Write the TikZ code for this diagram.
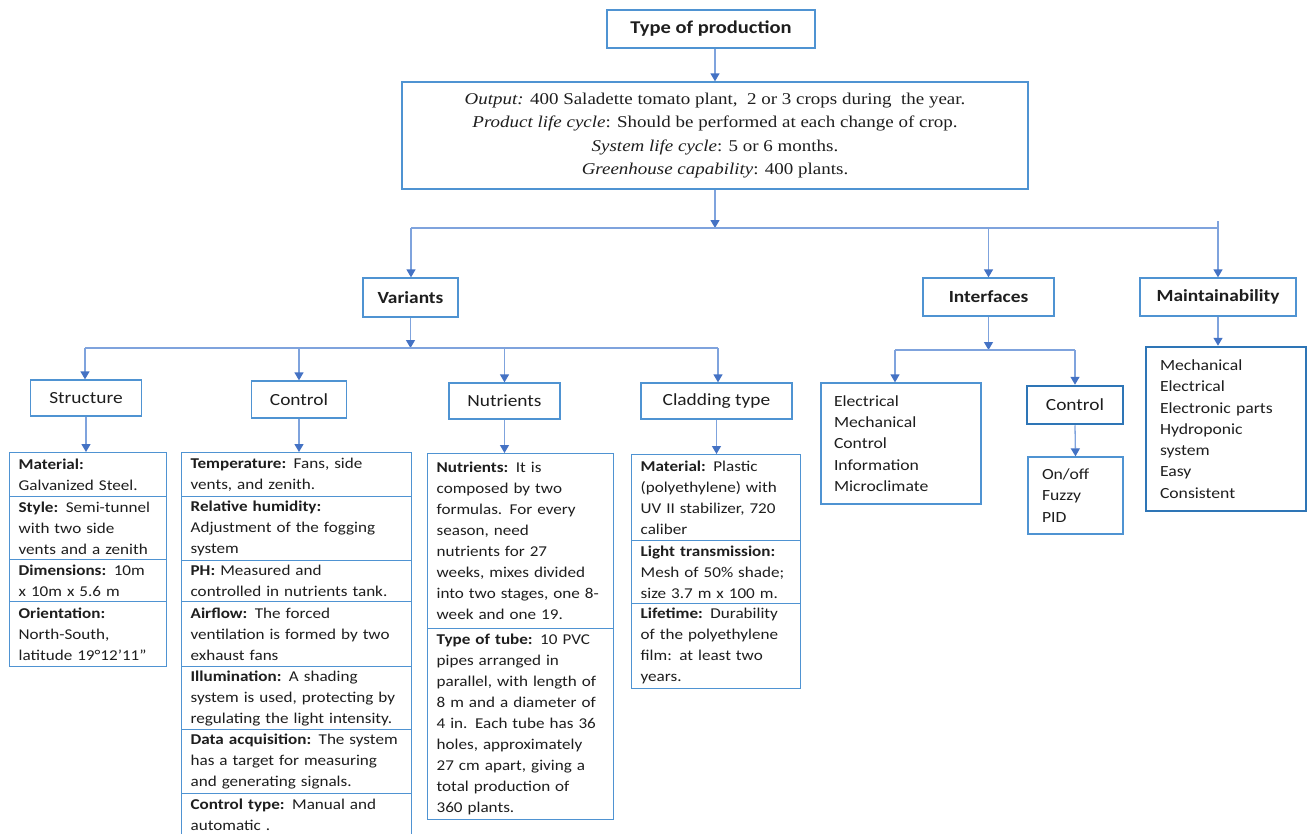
\documentclass[tikz,border=0pt]{standalone}
\usepackage{fontspec}
\setmainfont{Carlito}[FakeStretch=1.14]
\newfontfamily\timesfont{Liberation Serif}[FakeStretch=1.15]
\usetikzlibrary{arrows.meta}

\definecolor{boxblue}{HTML}{4F93D2}
\definecolor{linkblue}{HTML}{7FA3DD}
\definecolor{tipblue}{HTML}{4472C4}
\definecolor{thickblue}{HTML}{2E75B6}
\definecolor{ink}{HTML}{1E1E1E}

\tikzset{
  box/.style={draw=boxblue, line width=1.3pt, rectangle, inner sep=0pt, text=ink},
  hdr/.style={box, font=\fontsize{17}{20}\selectfont},
  hdrb/.style={box, font=\fontsize{17}{20}\selectfont\bfseries},
  sect/.style n args={3}{box, anchor=north west, align=left, inner xsep=9pt, inner ysep=0pt,
    minimum width=#1pt, text width=#2pt, minimum height=#3pt, font=\fontsize{15}{21}\selectfont},
  listbox/.style={box, align=left, inner ysep=0pt, font=\fontsize{15.5}{21.3}\selectfont},
  heavy/.style={draw=thickblue, line width=2.5pt},
  link/.style={draw=linkblue, line width=1.3pt},
  arr/.style={link, -{Triangle[length=8pt,width=9pt,color=tipblue]}},
}

\begin{document}
\begin{tikzpicture}[x=1pt,y=-1pt]
\path[use as bounding box, clip] (0,0) rectangle (1307,833);
\fill[white] (0,0) rectangle (1307,833);

% top of the tree
\node[hdrb, minimum width=208pt, minimum height=38pt, font=\fontsize{18}{21}\selectfont\bfseries] (tp) at (711,29) {Type of production};
\node[box, minimum width=626pt, minimum height=107pt, align=center,
      font=\timesfont\fontsize{16.5}{23.2}\selectfont] (mid) at (715,135.5)
  {\textit{Output:} 400 Saladette tomato plant,\ \ 2 or 3 crops during\ \ the year.\\
   \textit{Product life cycle}: Should be performed at each change of crop.\\
   \textit{System life cycle}: 5 or 6 months.\\
   \textit{Greenhouse capability}: 400 plants.};

% second level
\node[hdrb, minimum width=95pt, minimum height=39pt] (var) at (410.5,297.5) {Variants};
\node[hdrb, minimum width=131pt, minimum height=38pt] (intf) at (988.5,297) {Interfaces};
\node[hdrb, minimum width=156pt, minimum height=38pt] (maint) at (1218,297) {Maintainability};

% variants
\node[hdr, minimum width=111pt, minimum height=36pt] (str) at (86,398) {Structure};
\node[hdr, minimum width=95pt, minimum height=37pt] (ctl) at (299,399.5) {Control};
\node[hdr, minimum width=111pt, minimum height=36pt] (nut) at (504.5,401) {Nutrients};
\node[hdr, minimum width=151pt, minimum height=36pt] (cld) at (716.5,401) {Cladding type};

% structure details
\node[sect={157}{139}{44}] (s1) at (9,452) {\textbf{Material:}\\ Galvanized Steel.};
\node[sect={157}{139}{63}] (s2) at (9,496) {\textbf{Style:} Semi-tunnel\\ with two side\\ vents and a zenith};
\node[sect={157}{139}{42}] (s3) at (9,559) {\textbf{Dimensions:} 10m\\ x 10m x 5.6 m};
\node[sect={157}{139}{65}] (s4) at (9,601) {\textbf{Orientation:}\\ North-South,\\ latitude 19°12'11"};

% control details
\node[sect={230}{212}{44}] (c1) at (181,452) {\textbf{Temperature:} Fans, side\\ vents, and zenith.};
\node[sect={230}{212}{64}] (c2) at (181,496) {\textbf{Relative humidity:}\\ Adjustment of the fogging\\ system};
\node[sect={230}{212}{41}] (c3) at (181,560) {\textbf{PH:} Measured and\\ controlled in nutrients tank.};
\node[sect={230}{212}{65}] (c4) at (181,601) {\textbf{Airflow:} The forced\\ ventilation is formed by two\\ exhaust fans};
\node[sect={230}{212}{63}] (c5) at (181,666) {\textbf{Illumination:} A shading\\ system is used, protecting by\\ regulating the light intensity.};
\node[sect={230}{212}{64}] (c6) at (181,729) {\textbf{Data acquisition:} The system\\ has a target for measuring\\ and generating signals.};
\node[sect={230}{212}{42}] (c7) at (181,793) {\textbf{Control type:} Manual and\\ automatic .};

% nutrients details
\node[sect={186}{168}{175}] (n1) at (427,453) {\textbf{Nutrients:} It is\\ composed by two\\ formulas. For every\\ season, need\\ nutrients for 27\\ weeks, mixes divided\\ into two stages, one 8-\\ week and one 19.};
\node[sect={186}{168}{191}] (n2) at (427,628) {\textbf{Type of tube:} 10 PVC\\ pipes arranged in\\ parallel, with length of\\ 8 m and a diameter of\\ 4 in. Each tube has 36\\ holes, approximately\\ 27 cm apart, giving a\\ total production of\\ 360 plants.};

% cladding details
\node[sect={169}{151}{86}] (k1) at (631,454) {\textbf{Material:} Plastic\\ (polyethylene) with\\ UV II stabilizer, 720\\ caliber};
\node[sect={169}{151}{63}] (k2) at (631,540) {\textbf{Light transmission:}\\ Mesh of 50\% shade;\\ size 3.7 m x 100 m.};
\node[sect={169}{151}{85}] (k3) at (631,603) {\textbf{Lifetime:} Durability\\ of the polyethylene\\ film: at least two\\ years.};

% interfaces
\node[listbox, minimum width=160pt, text width=134pt, inner xsep=13pt, minimum height=121pt] (iflist) at (901,443.5)
  {Electrical\\ Mechanical\\ Control\\ Information\\ Microclimate};
\node[hdr, heavy, minimum width=96pt, minimum height=38pt] (ictl) at (1075,405) {Control};
\node[listbox, minimum width=95pt, text width=67pt, inner xsep=14pt, minimum height=77pt] (iclist) at (1075.5,495.5)
  {On/off\\ Fuzzy\\ PID};

% maintainability
\node[listbox, heavy, minimum width=160pt, text width=132pt, inner xsep=14pt, minimum height=164pt] (mlist) at (1226,429)
  {Mechanical\\ Electrical\\ Electronic parts\\ Hydroponic\\ system\\ Easy\\ Consistent};

% connectors: top
\draw[arr] (mid.north |- tp.south) -- (mid.north);
\coordinate (hub) at (715,228);
\coordinate (hl) at (411,228);
\coordinate (hr) at (1218,228);
\coordinate (htick) at (1218,221);
\draw[arr] (mid.south) -- (hub);
\draw[link] (hl) -- (hr);
\draw[arr] (hl) -- (hl |- var.north);
\draw[arr] (intf.north |- hl) -- (intf.north);
\draw[arr] (htick) -- (htick |- maint.north);

% connectors: variants
\coordinate (vhub) at (410.5,348);
\coordinate (vl) at (85,348);
\coordinate (vr) at (718,348);
\draw[arr] (var.south) -- (vhub);
\draw[link] (vl) -- (vr);
\draw[arr] (vl) -- (vl |- str.north);
\draw[arr] (ctl.north |- vl) -- (ctl.north);
\draw[arr] (nut.north |- vl) -- (nut.north);
\draw[arr] (vr) -- (vr |- cld.north);

\draw[arr] (str.south) -- (str.south |- s1.north);
\draw[arr] (ctl.south) -- (ctl.south |- c1.north);
\draw[arr] (nut.south) -- (nut.south |- n1.north);
\draw[arr] (cld.south) -- (cld.south |- k1.north);

% connectors: interfaces and maintainability
\coordinate (ihub) at (988.5,350);
\coordinate (il) at (895,350);
\coordinate (ir) at (1075,350);
\draw[arr] (intf.south) -- (ihub);
\draw[link] (il) -- (ir);
\draw[arr] (il) -- (il |- iflist.north);
\draw[arr] (ir) -- (ictl.north);
\draw[arr] (ictl.south) -- (iclist.north);
\draw[arr] (maint.south) -- (maint.south |- mlist.north);
\end{tikzpicture}
\end{document}
